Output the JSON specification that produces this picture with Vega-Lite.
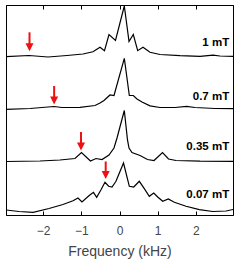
{
  "$schema": "https://vega.github.io/schema/vega-lite/v6.json",
  "width": 227,
  "height": 210,
  "autosize": {"type": "none"},
  "padding": {"left": 6, "top": 5, "right": 8, "bottom": 49},
  "background": "white",
  "config": {
    "view": {"stroke": "black", "strokeWidth": 1},
    "font": "Liberation Sans",
    "axis": {"grid": false}
  },
  "datasets": {
    "spectra": [
      {"series": "1 mT", "f": -2.97, "y": 3.015}, {"series": "1 mT", "f": -2.37, "y": 3.038}, {"series": "1 mT", "f": -1.87, "y": 3.01}, {"series": "1 mT", "f": -1.374, "y": 3.038}, {"series": "1 mT", "f": -0.955, "y": 3.067}, {"series": "1 mT", "f": -0.694, "y": 3.11}, {"series": "1 mT", "f": -0.51, "y": 3.194}, {"series": "1 mT", "f": -0.393, "y": 3.13}, {"series": "1 mT", "f": -0.275, "y": 3.438}, {"series": "1 mT", "f": -0.105, "y": 3.324}, {"series": "1 mT", "f": 0.126, "y": 3.981}, {"series": "1 mT", "f": 0.249, "y": 3.305}, {"series": "1 mT", "f": 0.361, "y": 3.438}, {"series": "1 mT", "f": 0.476, "y": 3.13}, {"series": "1 mT", "f": 0.615, "y": 3.194}, {"series": "1 mT", "f": 0.798, "y": 3.099}, {"series": "1 mT", "f": 1.06, "y": 3.057}, {"series": "1 mT", "f": 1.584, "y": 3.034}, {"series": "1 mT", "f": 2.107, "y": 3.023}, {"series": "1 mT", "f": 2.448, "y": 3.044}, {"series": "1 mT", "f": 2.63, "y": 3.029}, {"series": "1 mT", "f": 2.97, "y": 3.023},
      {"series": "0.7 mT", "f": -2.97, "y": 2.013}, {"series": "0.7 mT", "f": -2.34, "y": 2.029}, {"series": "0.7 mT", "f": -1.715, "y": 2.067}, {"series": "0.7 mT", "f": -1.505, "y": 2.048}, {"series": "0.7 mT", "f": -1.034, "y": 2.051}, {"series": "0.7 mT", "f": -0.641, "y": 2.086}, {"series": "0.7 mT", "f": -0.51, "y": 2.133}, {"series": "0.7 mT", "f": -0.406, "y": 2.181}, {"series": "0.7 mT", "f": -0.249, "y": 2.286}, {"series": "0.7 mT", "f": -0.144, "y": 2.276}, {"series": "0.7 mT", "f": 0.126, "y": 2.985}, {"series": "0.7 mT", "f": 0.257, "y": 2.276}, {"series": "0.7 mT", "f": 0.361, "y": 2.276}, {"series": "0.7 mT", "f": 0.458, "y": 2.21}, {"series": "0.7 mT", "f": 0.589, "y": 2.152}, {"series": "0.7 mT", "f": 0.798, "y": 2.08}, {"series": "0.7 mT", "f": 1.06, "y": 2.048}, {"series": "0.7 mT", "f": 1.453, "y": 2.048}, {"series": "0.7 mT", "f": 1.754, "y": 2.07}, {"series": "0.7 mT", "f": 1.976, "y": 2.048}, {"series": "0.7 mT", "f": 2.5, "y": 2.029}, {"series": "0.7 mT", "f": 2.97, "y": 2.025},
      {"series": "0.35 mT", "f": -2.97, "y": 1.019}, {"series": "0.35 mT", "f": -2.08, "y": 1.029}, {"series": "0.35 mT", "f": -1.56, "y": 1.048}, {"series": "0.35 mT", "f": -1.165, "y": 1.076}, {"series": "0.35 mT", "f": -0.995, "y": 1.19}, {"series": "0.35 mT", "f": -0.76, "y": 1.029}, {"series": "0.35 mT", "f": -0.615, "y": 1.076}, {"series": "0.35 mT", "f": -0.458, "y": 1.057}, {"series": "0.35 mT", "f": -0.275, "y": 1.143}, {"series": "0.35 mT", "f": -0.144, "y": 1.276}, {"series": "0.35 mT", "f": -0.065, "y": 1.467}, {"series": "0.35 mT", "f": 0.126, "y": 1.99}, {"series": "0.35 mT", "f": 0.209, "y": 1.429}, {"series": "0.35 mT", "f": 0.249, "y": 1.276}, {"series": "0.35 mT", "f": 0.327, "y": 1.19}, {"series": "0.35 mT", "f": 0.537, "y": 1.133}, {"series": "0.35 mT", "f": 0.733, "y": 1.057}, {"series": "0.35 mT", "f": 0.903, "y": 1.038}, {"series": "0.35 mT", "f": 1.126, "y": 1.19}, {"series": "0.35 mT", "f": 1.283, "y": 1.067}, {"series": "0.35 mT", "f": 1.479, "y": 1.038}, {"series": "0.35 mT", "f": 2.107, "y": 1.025}, {"series": "0.35 mT", "f": 2.97, "y": 1.023},
      {"series": "0.07 mT", "f": -2.97, "y": 0.095}, {"series": "0.07 mT", "f": -2.63, "y": 0.067}, {"series": "0.07 mT", "f": -2.26, "y": 0.051}, {"series": "0.07 mT", "f": -1.845, "y": 0.124}, {"series": "0.07 mT", "f": -1.48, "y": 0.2}, {"series": "0.07 mT", "f": -1.217, "y": 0.272}, {"series": "0.07 mT", "f": -1.086, "y": 0.324}, {"series": "0.07 mT", "f": -0.982, "y": 0.248}, {"series": "0.07 mT", "f": -0.785, "y": 0.375}, {"series": "0.07 mT", "f": -0.681, "y": 0.432}, {"series": "0.07 mT", "f": -0.597, "y": 0.337}, {"series": "0.07 mT", "f": -0.484, "y": 0.482}, {"series": "0.07 mT", "f": -0.38, "y": 0.623}, {"series": "0.07 mT", "f": -0.283, "y": 0.547}, {"series": "0.07 mT", "f": -0.196, "y": 0.533}, {"series": "0.07 mT", "f": -0.092, "y": 0.642}, {"series": "0.07 mT", "f": 0.105, "y": 0.99}, {"series": "0.07 mT", "f": 0.257, "y": 0.547}, {"series": "0.07 mT", "f": 0.372, "y": 0.533}, {"series": "0.07 mT", "f": 0.518, "y": 0.642}, {"series": "0.07 mT", "f": 0.649, "y": 0.501}, {"series": "0.07 mT", "f": 0.78, "y": 0.356}, {"series": "0.07 mT", "f": 0.895, "y": 0.419}, {"series": "0.07 mT", "f": 1.0, "y": 0.343}, {"series": "0.07 mT", "f": 1.131, "y": 0.261}, {"series": "0.07 mT", "f": 1.277, "y": 0.305}, {"series": "0.07 mT", "f": 1.435, "y": 0.242}, {"series": "0.07 mT", "f": 1.741, "y": 0.166}, {"series": "0.07 mT", "f": 2.089, "y": 0.101}, {"series": "0.07 mT", "f": 2.44, "y": 0.067}, {"series": "0.07 mT", "f": 2.788, "y": 0.076}, {"series": "0.07 mT", "f": 2.97, "y": 0.105}
    ],
    "arrows": [
      {"series": "1 mT", "f": -2.355, "top": 3.48, "tip": 3.12},
      {"series": "0.7 mT", "f": -1.71, "top": 2.457, "tip": 2.105},
      {"series": "0.35 mT", "f": -1.008, "top": 1.581, "tip": 1.229},
      {"series": "0.07 mT", "f": -0.361, "top": 1.019, "tip": 0.686}
    ],
    "labels": [
      {"label": "1 mT", "f": 2.87, "y": 3.28},
      {"label": "0.7 mT", "f": 2.87, "y": 2.253},
      {"label": "0.35 mT", "f": 2.87, "y": 1.295},
      {"label": "0.07 mT", "f": 2.87, "y": 0.381}
    ]
  },
  "resolve": {"axis": {"x": "independent"}},
  "layer": [
    {
      "data": {"name": "spectra"},
      "mark": {"type": "line", "color": "black", "strokeWidth": 1.2, "clip": true},
      "encoding": {
        "x": {"field": "f", "type": "quantitative",
              "scale": {"domain": [-2.97, 2.97], "nice": false, "zero": false},
              "axis": {"orient": "bottom", "values": [-2, -1, 0, 1, 2], "tickSize": -4, "tickColor": "black", "domainColor": "black",
                       "labelColor": "#444", "labelFontSize": 12, "labelPadding": 14.5,
                       "title": "Frequency (kHz)", "titleFontSize": 14, "titleFontWeight": "normal", "titleColor": "#444", "titlePadding": 8}},
        "y": {"field": "y", "type": "quantitative", "scale": {"domain": [0, 4], "nice": false, "zero": false}, "axis": null},
        "detail": {"field": "series"}
      }
    },
    {
      "data": {"name": "arrows"},
      "mark": {"type": "rule", "color": "#ee1111", "strokeWidth": 2, "y2Offset": -4},
      "encoding": {
        "x": {"field": "f", "type": "quantitative",
              "axis": {"orient": "top", "values": [-2, -1, 0, 1, 2], "tickSize": -4, "tickColor": "black", "domainColor": "black", "labels": false, "title": null}},
        "y": {"field": "top", "type": "quantitative", "axis": null},
        "y2": {"field": "tip"}
      }
    },
    {
      "data": {"name": "arrows"},
      "mark": {"type": "point", "shape": "M-1,-1L1,-1L0,1Z", "filled": true, "color": "#ee1111", "opacity": 1, "size": 64, "strokeWidth": 0, "yOffset": -4},
      "encoding": {
        "x": {"field": "f", "type": "quantitative", "axis": null},
        "y": {"field": "tip", "type": "quantitative", "axis": null}
      }
    },
    {
      "data": {"name": "labels"},
      "mark": {"type": "text", "align": "right", "baseline": "middle", "fontWeight": "bold", "fontSize": 11.5, "font": "Liberation Sans", "color": "black"},
      "encoding": {
        "x": {"field": "f", "type": "quantitative", "axis": null},
        "y": {"field": "y", "type": "quantitative", "axis": null},
        "text": {"field": "label"}
      }
    }
  ]
}
